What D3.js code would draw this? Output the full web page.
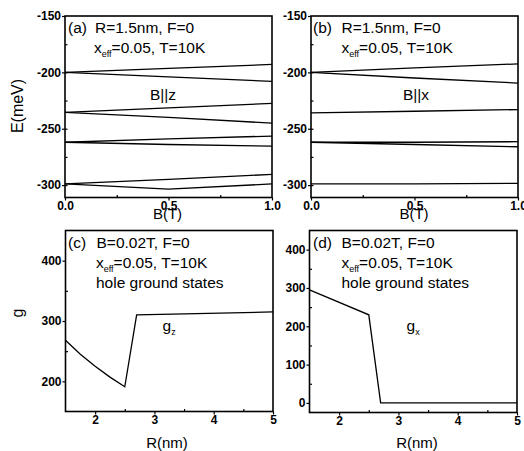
<!DOCTYPE html>
<html>
<head>
<meta charset="utf-8">
<script src="https://cdn.jsdelivr.net/npm/d3@7"></script>
<style>
body { margin: 0; background: #fff; }
svg { display: block; font-family: Arial, "Liberation Sans", sans-serif; }
.tick text { font-weight: bold; font-size: 12px; fill: #000; }
.tick line { stroke: #000; stroke-width: 1.2; }
</style>
</head>
<body>
<svg id="fig" width="524" height="451"></svg>
<script>
// magnetic field samples (T) for the level plots
var fieldB = [0, 0.5, 1.0];

// hole levels E(meV), B parallel to z  (panel a)
var levelsZ = [
    [-200, -196.5, -193],
    [-200, -204, -208],
    [-235.5, -231.5, -227.5],
    [-235.5, -240, -245],
    [-262, -259, -256.5],
    [-262, -264, -265.5],
    [-299, -295, -290.5],
    [-299, -303.5, -299]
];

// hole levels E(meV), B parallel to x  (panel b)
var levelsX = [
    [-200, -196, -192.5],
    [-200, -205, -209.5],
    [-236, -234.5, -233],
    [-262, -262, -261.5],
    [-262, -264, -266],
    [-299, -299, -298.5]
];

// g factor vs wire radius (panels c, d)
var radiusZ = [1.5, 1.75, 2.0, 2.25, 2.5, 2.7, 5.0];
var gz = [268, 245, 225, 207, 191, 310, 315];
var radiusX = [1.5, 2.5, 2.7, 5.0];
var gx = [295, 230, 0, 0];

var energyTicks = [-300, -250, -200, -150];
var energyMinor = [-300, -275, -250, -225, -200, -175];
var fieldTicks = [0, 0.5, 1.0];
var fieldMinor = [0.25, 0.75];
var radiusTicks = [2, 3, 4, 5];
var radiusMinor = [2.5, 3.5, 4.5];
var gzTicks = [200, 300, 400];
var gzMinor = [250, 350];
var gxTicks = [0, 100, 200, 300, 400];
var gxMinor = [50, 150, 250, 350];

var svg = d3.select("#fig");

function clean(sel) {
    sel.select(".domain").remove();
}

function panel(p) {
    var x = d3.scaleLinear().domain(p.xd).range([p.left, p.right]);
    var y = d3.scaleLinear().domain(p.yd).range([p.bottom, p.top]);
    var g = svg.append("g");

    // minor ticks point inward
    g.append("g").attr("transform", "translate(0," + p.bottom + ")")
        .call(d3.axisBottom(x).tickValues(p.xminor).tickSize(-2.5).tickFormat(""))
        .call(clean);
    g.append("g").attr("transform", "translate(" + p.left + ",0)")
        .call(d3.axisLeft(y).tickValues(p.yminor).tickSize(-2.5).tickFormat(""))
        .call(clean);

    // major ticks point outward
    g.append("g").attr("transform", "translate(0," + p.bottom + ")")
        .call(d3.axisBottom(x).tickValues(p.xticks).tickSize(3).tickPadding(1).tickFormat(p.xfmt))
        .call(clean);
    g.append("g").attr("transform", "translate(" + p.left + ",0)")
        .call(d3.axisLeft(y).tickValues(p.yticks).tickSize(3).tickPadding(1).tickFormat(function(d) { return String(d); }))
        .call(clean);

    g.append("rect")
        .attr("x", p.left).attr("y", p.top)
        .attr("width", p.right - p.left).attr("height", p.bottom - p.top)
        .attr("fill", "none").attr("stroke", "#000").attr("stroke-width", 1.6);

    var line = d3.line()
        .x(function(d) { return x(d[0]); })
        .y(function(d) { return y(d[1]); });

    p.series.forEach(function(s) {
        g.append("path").datum(s).attr("d", line)
            .attr("fill", "none").attr("stroke", "#000").attr("stroke-width", 1.3);
    });

    return g;
}

function levelSeries(levels) {
    return levels.map(function(lv) {
        return fieldB.map(function(b, i) { return [b, lv[i]]; });
    });
}

function zip(xs, ys) {
    return xs.map(function(v, i) { return [v, ys[i]]; });
}

var fmtField = function(d) { return d3.format(".1f")(d); };
var fmtInt = function(d) { return String(d); };

var pa = panel({ left: 65, right: 272, top: 16, bottom: 197.5, xd: [0, 1], yd: [-311, -150],
    xticks: fieldTicks, xminor: fieldMinor, yticks: energyTicks, yminor: energyMinor,
    xfmt: fmtField, series: levelSeries(levelsZ) });
var pb = panel({ left: 311, right: 518, top: 16, bottom: 197.5, xd: [0, 1], yd: [-311, -150],
    xticks: fieldTicks, xminor: fieldMinor, yticks: energyTicks, yminor: energyMinor,
    xfmt: fmtField, series: levelSeries(levelsX) });
var pc = panel({ left: 65.5, right: 273, top: 230.5, bottom: 411.5, xd: [1.5, 5], yd: [150, 450],
    xticks: radiusTicks, xminor: radiusMinor, yticks: gzTicks, yminor: gzMinor,
    xfmt: fmtInt, series: [zip(radiusZ, gz)] });
var pd = panel({ left: 309.5, right: 517, top: 230.5, bottom: 412.5, xd: [1.5, 5], yd: [-25, 450],
    xticks: radiusTicks, xminor: radiusMinor, yticks: gxTicks, yminor: gxMinor,
    xfmt: fmtInt, series: [zip(radiusX, gx)] });

// annotation text
function note(x, y, txt) {
    return svg.append("text").attr("x", x).attr("y", y)
        .attr("font-size", 15.5).attr("fill", "#000").text(txt);
}
function noteSub(x, y, main, sub, rest) {
    var t = svg.append("text").attr("x", x).attr("y", y)
        .attr("font-size", 15.5).attr("fill", "#000");
    t.append("tspan").text(main);
    t.append("tspan").attr("font-size", 9).attr("dy", 4).text(sub);
    t.append("tspan").attr("dy", -4).text(rest);
    return t;
}

note(68, 33, "(a)");
note(95, 33, "R=1.5nm, F=0");
noteSub(94, 53, "x", "eff", "=0.05, T=10K");
note(163, 100, "B||z").attr("text-anchor", "middle");

note(313, 33, "(b)");
note(341.5, 33, "R=1.5nm, F=0");
noteSub(341.5, 53, "x", "eff", "=0.05, T=10K");
note(416, 100, "B||x").attr("text-anchor", "middle");

note(68, 248, "(c)");
note(96.5, 248, "B=0.02T, F=0");
noteSub(96, 268, "x", "eff", "=0.05, T=10K");
note(96, 288, "hole ground states");
noteSub(162.5, 331, "g", "z", "");

note(313, 248, "(d)");
note(341.5, 248, "B=0.02T, F=0");
noteSub(341.5, 268, "x", "eff", "=0.05, T=10K");
note(341.5, 288, "hole ground states");
noteSub(406.5, 331, "g", "x", "");

// axis titles
function title(x, y, txt, rot, size) {
    var t = svg.append("text").attr("font-size", size || 15).attr("fill", "#000")
        .attr("text-anchor", "middle").text(txt);
    if (rot) t.attr("transform", "translate(" + x + "," + y + ") rotate(-90)");
    else t.attr("x", x).attr("y", y);
    return t;
}
title(23, 106, "E(meV)", true, 16);
title(167.5, 219, "B(T)");
title(414, 218.5, "B(T)");
title(23, 313, "g", true, 16);
title(167, 448, "R(nm)");
title(417, 448, "R(nm)");
</script>
</body>
</html>
